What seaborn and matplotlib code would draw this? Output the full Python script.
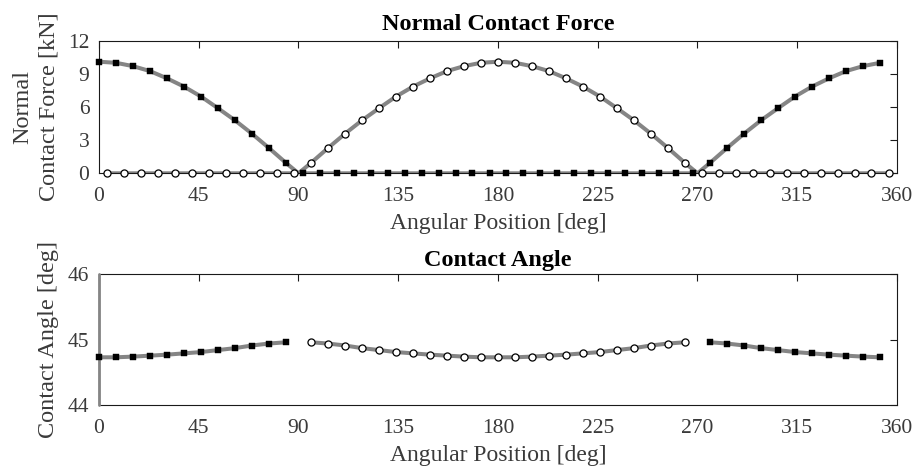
import matplotlib
matplotlib.use("Agg")
import matplotlib.pyplot as plt
import seaborn as sns
import pandas as pd

# ---- data ----
angles_sq = [0.0, 7.7, 15.3, 23.0, 30.6, 38.3, 46.0, 53.6, 61.3, 68.9, 76.6, 84.3,
             91.9, 99.6, 107.2, 114.9, 122.6, 130.2, 137.9, 145.5, 153.2, 160.9, 168.5,
             176.2, 183.8, 191.5, 199.1, 206.8, 214.5, 222.1, 229.8, 237.4, 245.1, 252.8,
             260.4, 268.1, 275.7, 283.4, 291.1, 298.7, 306.4, 314.0, 321.7, 329.4, 337.0,
             344.7, 352.3]
angles_ci = [3.8, 11.5, 19.1, 26.8, 34.5, 42.1, 49.8, 57.4, 65.1, 72.8, 80.4, 88.1,
             95.7, 103.4, 111.1, 118.7, 126.4, 134.0, 141.7, 149.4, 157.0, 164.7, 172.3,
             180.0, 187.7, 195.3, 203.0, 210.6, 218.3, 226.0, 233.6, 241.3, 248.9, 256.6,
             264.3, 271.9, 279.6, 287.2, 294.9, 302.6, 310.2, 317.9, 325.5, 333.2, 340.9,
             348.5, 356.2]

force_sq = [10.1, 10.0, 9.7, 9.25, 8.6, 7.85, 6.95, 5.9, 4.8, 3.6, 2.3, 0.95,
            0, 0, 0, 0, 0, 0, 0, 0, 0, 0, 0, 0, 0, 0, 0, 0, 0, 0, 0, 0, 0, 0, 0, 0,
            0.95, 2.3, 3.6, 4.8, 5.9, 6.95, 7.85, 8.6, 9.25, 9.7, 10.0]
force_ci = [0, 0, 0, 0, 0, 0, 0, 0, 0, 0, 0, 0,
            0.95, 2.3, 3.6, 4.8, 5.9, 6.95, 7.85, 8.6, 9.25, 9.7, 10.0,
            10.1,
            10.0, 9.7, 9.25, 8.6, 7.85, 6.95, 5.9, 4.8, 3.6, 2.3, 0.95,
            0, 0, 0, 0, 0, 0, 0, 0, 0, 0, 0, 0]
force_zero_angles = [90.0, 270.0]

# contact angle (only where the roller is loaded)
ca_sq_angles_a = angles_sq[:12]
ca_sq_a = [44.73, 44.73, 44.74, 44.755, 44.77, 44.79, 44.81, 44.84, 44.87, 44.91, 44.94, 44.96]
ca_sq_angles_b = angles_sq[36:]
ca_sq_b = [44.96, 44.94, 44.91, 44.87, 44.84, 44.81, 44.79, 44.77, 44.755, 44.74, 44.73]
ca_ci_angles = angles_ci[12:35]
ca_ci = [44.96, 44.94, 44.91, 44.87, 44.84, 44.81, 44.79, 44.77, 44.755, 44.74, 44.73,
         44.73, 44.73, 44.74, 44.755, 44.77, 44.79, 44.81, 44.84, 44.87, 44.91, 44.94, 44.96]
ca_edge_x = [0.0, 0.0]
ca_edge_y = [44.0, 46.0]

x_ticks = [0, 45, 90, 135, 180, 225, 270, 315, 360]
force_ticks = [0, 3, 6, 9, 12]
ca_ticks = [44, 45, 46]

# ---- style ----
sns.set_theme(style="white")
plt.rcParams["font.family"] = ["Liberation Serif", "DejaVu Serif"]
plt.rcParams["axes.edgecolor"] = "#1a1a1a"
plt.rcParams["axes.linewidth"] = 0.8

GREY = "#858585"
TXT = "#3a3a3a"
LW = 2.9

fig = plt.figure(figsize=(9.15, 4.74), dpi=100)
ax1 = fig.add_axes([0.1082, 0.6344, 0.8721, 0.2797])
ax2 = fig.add_axes([0.1082, 0.1456, 0.8721, 0.2757])


def line_df(xs, ys, extra_x=()):
    d = pd.DataFrame({"x": list(xs) + list(extra_x), "y": list(ys) + [0.0] * len(extra_x)})
    return d.sort_values("x")


# top: normal contact force
for xs, ys in [(angles_sq, force_sq), (angles_ci, force_ci)]:
    d = line_df(xs, ys, force_zero_angles)
    sns.lineplot(data=d, x="x", y="y", ax=ax1, color=GREY, lw=LW, sort=False,
                 estimator=None, zorder=2)
sns.scatterplot(x=angles_sq, y=force_sq, ax=ax1, marker="s", s=22, color="black",
                edgecolor="black", linewidth=0.3, zorder=3, clip_on=False)
sns.scatterplot(x=angles_ci, y=force_ci, ax=ax1, marker="o", s=26, color="white",
                edgecolor="black", linewidth=0.9, zorder=3, clip_on=False)

# bottom: contact angle
sns.lineplot(x=ca_edge_x, y=ca_edge_y, ax=ax2, color=GREY, lw=2.0, estimator=None,
             zorder=2.6, clip_on=False)
for xs, ys in [(ca_sq_angles_a, ca_sq_a), (ca_sq_angles_b, ca_sq_b), (ca_ci_angles, ca_ci)]:
    sns.lineplot(x=xs, y=ys, ax=ax2, color=GREY, lw=LW, sort=False, estimator=None, zorder=2.7)
sns.scatterplot(x=ca_sq_angles_a + ca_sq_angles_b, y=ca_sq_a + ca_sq_b, ax=ax2, marker="s",
                s=22, color="black", edgecolor="black", linewidth=0.3, zorder=3, clip_on=False)
sns.scatterplot(x=ca_ci_angles, y=ca_ci, ax=ax2, marker="o", s=26, color="white",
                edgecolor="black", linewidth=0.9, zorder=3, clip_on=False)

for ax, yt, ylim in [(ax1, force_ticks, (0, 12)), (ax2, ca_ticks, (44, 46))]:
    ax.set_xlim(0, 360)
    ax.set_ylim(*ylim)
    ax.set_xticks(x_ticks)
    ax.set_yticks(yt)
    ax.tick_params(direction="in", top=True, right=True, length=5, width=0.8,
                   colors="#1a1a1a", labelcolor=TXT, labelsize=15.5)
    ax.tick_params(axis="x", pad=10)
    ax.tick_params(axis="y", pad=7)
    for s in ax.spines.values():
        s.set_visible(True)
        s.set_color("#1a1a1a")
        s.set_linewidth(0.8)
    ax.set_xlabel("Angular Position [deg]", fontsize=17, color=TXT, labelpad=5)

ax1.set_title("Normal Contact Force", fontsize=17.5, fontweight="bold", color="black", pad=8)
ax2.set_title("Contact Angle", fontsize=17.5, fontweight="bold", color="black", pad=6)
ax1.set_ylabel("Normal\nContact Force [kN]", fontsize=17.5, color=TXT, labelpad=6,
               linespacing=1.3)
ax2.set_ylabel("Contact Angle [deg]", fontsize=17.5, color=TXT, labelpad=6)

fig.savefig("out.png", dpi=100)
